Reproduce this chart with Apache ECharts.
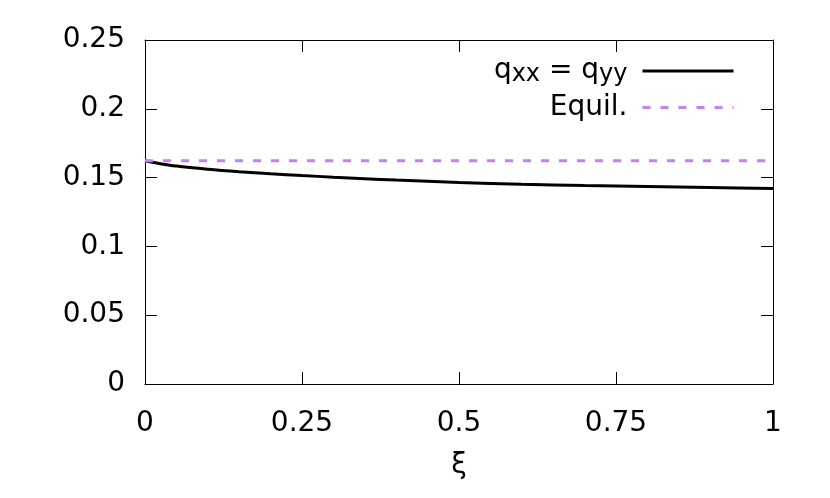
<!DOCTYPE html>
<html>
<head>
<meta charset="utf-8">
<script src="https://cdn.jsdelivr.net/npm/echarts@6/dist/echarts.min.js"></script>
<style>
  html, body { margin: 0; padding: 0; background: #fff; }
  #chart { width: 830px; height: 498px; }
</style>
</head>
<body>
<div id="chart"></div>
<script>
// 数据
const xi = [0, 0.02, 0.05, 0.1, 0.15, 0.2, 0.25, 0.3, 0.35, 0.4, 0.5, 0.6, 0.7, 0.8, 0.9, 1.0];
const qxx = [0.1623, 0.1605, 0.1584, 0.1561, 0.1543, 0.1528, 0.1515, 0.1503, 0.1492, 0.1482, 0.1464, 0.1451, 0.1442, 0.1435, 0.1428, 0.1421];
const equilX = [0, 1];
const equilY = [0.1623, 0.1623];

const font = 'DejaVu Sans';
const chart = echarts.init(document.getElementById('chart'));

const axisLine = { show: true, onZero: false, lineStyle: { color: '#000', width: 1 } };
const axisTick = { show: true, inside: true, length: 12, lineStyle: { color: '#000', width: 1 } };

const option = {
  animation: false,
  backgroundColor: '#fff',
  grid: { left: 145, right: 57, top: 40, bottom: 114 },
  legend: {
    orient: 'vertical',
    right: 90,
    top: 52,
    align: 'right',
    itemWidth: 91,
    itemHeight: 14,
    itemGap: 7,
    data: ['qxx', 'Equil.'],
    itemStyle: { opacity: 0 },
    lineStyle: { width: 3 },
    textStyle: {
      fontFamily: font,
      fontSize: 28,
      color: '#000',
      padding: [0, 10, 0, 0],
      rich: {
        n: { fontFamily: font, fontSize: 28, lineHeight: 31, color: '#000' },
        s: { fontFamily: font, fontSize: 24, lineHeight: 18, verticalAlign: 'bottom', color: '#000' }
      }
    },
    formatter: name => name === 'qxx' ? '{n|q}{s|xx}{n| = q}{s|yy}' : '{n|Equil.}'
  },
  xAxis: [
    {
      type: 'value', min: 0, max: 1, interval: 0.25,
      name: 'ξ', nameLocation: 'middle', nameGap: 68,
      nameTextStyle: { fontFamily: font, fontSize: 28, color: '#000' },
      axisLine, axisTick,
      axisLabel: { fontFamily: font, fontSize: 28, color: '#000', margin: 26 },
      splitLine: { show: false }
    },
    {
      type: 'value', min: 0, max: 1, interval: 0.25, position: 'top',
      axisLine, axisTick, axisLabel: { show: false }, splitLine: { show: false }
    }
  ],
  yAxis: [
    {
      type: 'value', min: 0, max: 0.25, interval: 0.05,
      axisLine, axisTick,
      axisLabel: { fontFamily: font, fontSize: 28, color: '#000', margin: 20 },
      splitLine: { show: false }
    },
    {
      type: 'value', min: 0, max: 0.25, interval: 0.05, position: 'right',
      axisLine, axisTick, axisLabel: { show: false }, splitLine: { show: false }
    }
  ],
  series: [
    {
      name: 'qxx',
      type: 'line',
      data: xi.map((x, i) => [x, qxx[i]]),
      smooth: 0.3,
      showSymbol: false,
      symbol: 'none',
      color: '#000',
      lineStyle: { color: '#000', width: 3 },
      z: 2
    },
    {
      name: 'Equil.',
      type: 'line',
      data: equilX.map((x, i) => [x, equilY[i]]),
      showSymbol: false,
      symbol: 'none',
      color: '#c080ff',
      lineStyle: { color: '#c080ff', width: 3, type: [8, 10] },
      z: 3
    }
  ]
};

chart.setOption(option);
</script>
</body>
</html>
